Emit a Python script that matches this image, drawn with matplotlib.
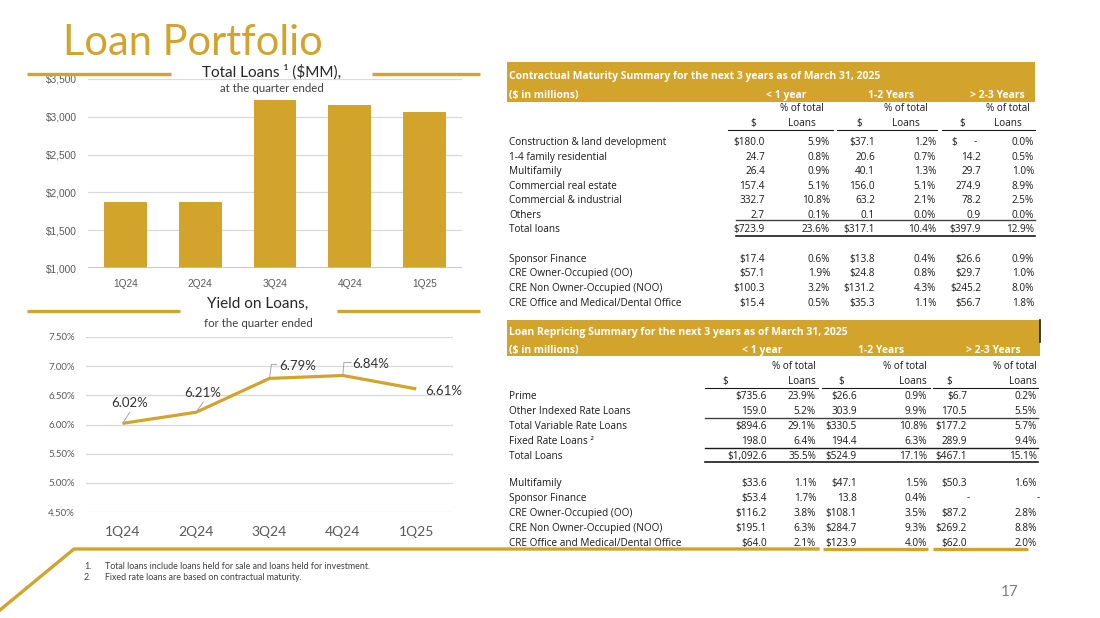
import matplotlib.pyplot as plt
import numpy as np

GOLD = '#D3A42B'
DARK = '#1A1A1A'
GREY = '#595959'
SANS = ['Lato', 'DejaVu Sans']
TAB = ['Open Sans', 'DejaVu Sans']

# chart data
quarters = ['1Q24', '2Q24', '3Q24', '4Q24', '1Q25']
total_loans = [1875, 1875, 3225, 3150, 3070]
loan_yield = [6.02, 6.21, 6.79, 6.84, 6.61]

# contractual maturity table
mat_rows = ['Construction & land development', '1-4 family residential', 'Multifamily',
            'Commercial real estate', 'Commercial & industrial', 'Others', 'Total loans',
            'Sponsor Finance', 'CRE Owner-Occupied (OO)', 'CRE Non Owner-Occupied (NOO)',
            'CRE Office and Medical/Dental Office']
mat_vals = [
    ['$180.0', '5.9%', '$37.1', '1.2%', '$ -', '0.0%'],
    ['24.7', '0.8%', '20.6', '0.7%', '14.2', '0.5%'],
    ['26.4', '0.9%', '40.1', '1.3%', '29.7', '1.0%'],
    ['157.4', '5.1%', '156.0', '5.1%', '274.9', '8.9%'],
    ['332.7', '10.8%', '63.2', '2.1%', '78.2', '2.5%'],
    ['2.7', '0.1%', '0.1', '0.0%', '0.9', '0.0%'],
    ['$723.9', '23.6%', '$317.1', '10.4%', '$397.9', '12.9%'],
    ['$17.4', '0.6%', '$13.8', '0.4%', '$26.6', '0.9%'],
    ['$57.1', '1.9%', '$24.8', '0.8%', '$29.7', '1.0%'],
    ['$100.3', '3.2%', '$131.2', '4.3%', '$245.2', '8.0%'],
    ['$15.4', '0.5%', '$35.3', '1.1%', '$56.7', '1.8%'],
]

# loan repricing table
rep_rows = ['Prime', 'Other Indexed Rate Loans', 'Total Variable Rate Loans',
            'Fixed Rate Loans \u00b2', 'Total Loans', 'Multifamily', 'Sponsor Finance',
            'CRE Owner-Occupied (OO)', 'CRE Non Owner-Occupied (NOO)',
            'CRE Office and Medical/Dental Office']
rep_vals = [
    ['$735.6', '23.9%', '$26.6', '0.9%', '$6.7', '0.2%'],
    ['159.0', '5.2%', '303.9', '9.9%', '170.5', '5.5%'],
    ['$894.6', '29.1%', '$330.5', '10.8%', '$177.2', '5.7%'],
    ['198.0', '6.4%', '194.4', '6.3%', '289.9', '9.4%'],
    ['$1,092.6', '35.5%', '$524.9', '17.1%', '$467.1', '15.1%'],
    ['$33.6', '1.1%', '$47.1', '1.5%', '$50.3', '1.6%'],
    ['$53.4', '1.7%', '13.8', '0.4%', '-', '-'],
    ['$116.2', '3.8%', '$108.1', '3.5%', '$87.2', '2.8%'],
    ['$195.1', '6.3%', '$284.7', '9.3%', '$269.2', '8.8%'],
    ['$64.0', '2.1%', '$123.9', '4.0%', '$62.0', '2.0%'],
]
periods = ['< 1 year', '1-2 Years', '> 2-3 Years']

W, H = 1100, 618
fig = plt.figure(figsize=(11, 6.18), dpi=100)
fig.patch.set_facecolor('white')

def fbox(x0, y0, x1, y1):
    return [x0 / W, 1 - y1 / H, (x1 - x0) / W, (y1 - y0) / H]

# ---- bar chart
ax1 = fig.add_axes(fbox(88, 79, 462, 268))
x = np.arange(len(quarters))
ax1.bar(x, total_loans, width=0.57, color=GOLD, zorder=2)
ax1.set_xlim(-0.5, 4.5)
ax1.set_ylim(1000, 3500)
ax1.set_yticks(range(1000, 3501, 500))
ax1.set_yticklabels(['${:,}'.format(v) for v in range(1000, 3501, 500)])
ax1.set_xticks(x)
ax1.set_xticklabels(quarters)
ax1.grid(axis='y', color='#D9D9D9', lw=0.9, zorder=0)
for s in ax1.spines.values():
    s.set_visible(False)
ax1.axhline(1000, color='#BFBFBF', lw=1.2, zorder=3)
ax1.tick_params(length=0, labelsize=7.3, labelcolor=GREY, pad=8)
for t in ax1.get_xticklabels() + ax1.get_yticklabels():
    t.set_family(['Liberation Sans', 'DejaVu Sans'])

# ---- line chart
ax2 = fig.add_axes(fbox(86, 337, 453, 512))
ax2.plot(x, loan_yield, color=GOLD, lw=2.3, solid_capstyle='butt', zorder=3)
ax2.set_xlim(-0.5, 4.5)
ax2.set_ylim(4.5, 7.5)
ax2.set_yticks(np.arange(4.5, 7.51, 0.5))
ax2.set_yticklabels(['{:.2f}%'.format(v) for v in np.arange(4.5, 7.51, 0.5)])
ax2.set_xticks(x)
ax2.set_xticklabels(quarters)
ax2.grid(axis='y', color='#D9D9D9', lw=0.9, zorder=0)
for s in ax2.spines.values():
    s.set_visible(False)
ax2.tick_params(axis='y', length=0, labelsize=7, labelcolor=GREY, pad=8)
ax2.tick_params(axis='x', length=0, labelsize=10, labelcolor=GREY, pad=10)
for t in ax2.get_xticklabels() + ax2.get_yticklabels():
    t.set_family(SANS)

# ---- overlay in pixel coordinates
ov = fig.add_axes([0, 0, 1, 1], zorder=10)
ov.set_xlim(0, W)
ov.set_ylim(H, 0)
ov.axis('off')
ov.patch.set_alpha(0)

def txt(xp, yp, s, fs, **kw):
    # yp is the visual middle of capitals; draw on the baseline below it
    kw.setdefault('color', DARK)
    kw.setdefault('family', SANS)
    kw.setdefault('ha', 'left')
    ov.text(xp, yp + fs * 1.389 * 0.36, s, fontsize=fs, va='baseline', **kw)

# data labels of the yield line
lab_off = [(7, -21), (7, -20), (28, -13), (28, -12), (27, 1)]
leaders = [[(0, 0), (7, -11)], [(0, 0), (7, -10)], [(0, -1), (2, -14), (7, -14)],
           [(0, -1), (1, -13), (8, -13)], None]
for i, v in enumerate(loan_yield):
    px, py = ax2.transData.transform((i, v))
    py = H - py
    dx, dy = lab_off[i]
    txt(px + dx, py + dy, '{:.2f}%'.format(v), 9.5, ha='center', color='#333333')
    if leaders[i]:
        ov.plot([px + a for a, b in leaders[i]], [py + b for a, b in leaders[i]],
                color='#A6A6A6', lw=0.7)

# titles
txt(63, 40, 'Loan Portfolio', 30, color=GOLD)
txt(272, 71, 'Total Loans \u00b9 ($MM),', 11, color='#262626', ha='center')
txt(272, 88, 'at the quarter ended', 8.3, color='#404040', ha='center')
ov.plot([27, 171], [74, 74], color=GOLD, lw=2.4, solid_capstyle='butt')
ov.plot([372, 480], [74, 74], color=GOLD, lw=2.4, solid_capstyle='butt')

txt(258, 302, 'Yield on Loans,', 11, color='#262626', ha='center')
txt(258, 323, 'for the quarter ended', 8.3, color='#404040', ha='center')
ov.plot([27, 180], [311, 311], color=GOLD, lw=2.4, solid_capstyle='butt')
ov.plot([337, 480], [311, 311], color=GOLD, lw=2.4, solid_capstyle='butt')

# footer line and notes
ov.plot([0, 74, 818], [610, 549, 549], color=GOLD, lw=2.4, solid_joinstyle='miter')
ov.plot([823, 928], [549, 549], color=GOLD, lw=2.4, solid_capstyle='butt')
ov.plot([933, 1028], [549, 549], color=GOLD, lw=2.4, solid_capstyle='butt')
notes = ['Total loans include loans held for sale and loans held for investment.',
         'Fixed rate loans are based on contractual maturity.']
for k, n in enumerate(notes):
    txt(84, 566 + 11 * k, '{}.'.format(k + 1), 6.4, color='#404040')
    txt(105, 566 + 11 * k, n, 6.4, color='#404040')
txt(1010, 590, '17', 11, color='#7F7F7F', ha='center')

TFS = 7.2
BFS = 7.5

def band(y0, y1, x1, title, centers):
    ov.add_patch(plt.Rectangle((507, y0), x1 - 507, y1 - y0, color=GOLD, lw=0))
    r1 = y0 + (y1 - y0) * 0.32
    r2 = y0 + (y1 - y0) * 0.8
    txt(509, r1, title, BFS, color='white', fontweight='bold', family=TAB)
    txt(509, r2, '($ in millions)', BFS, color='white', fontweight='bold', family=TAB)
    for c, p in zip(centers, periods):
        txt(c, r2, p, BFS, color='white', fontweight='bold', ha='center', family=TAB)

# ---- maturity table
band(62, 102, 1035, 'Contractual Maturity Summary for the next 3 years as of March 31, 2025',
     [786, 891, 997])
m_right = [765, 830, 875, 936, 981, 1034]
for c, pc in zip([753, 859, 962], [802, 906, 1008]):
    txt(c, 122, '$', TFS, ha='center', family=TAB)
    txt(pc, 107, '% of total', TFS, ha='center', family=TAB)
    txt(pc, 122, 'Loans', TFS, ha='center', family=TAB)
for a, b in [(728, 833), (837, 937), (942, 1035)]:
    ov.plot([a, b], [130, 130], color=DARK, lw=0.8)
m_y = [141, 156, 170, 185, 199, 214, 228, 258, 272, 287, 302]
for r, (lab, vals) in enumerate(zip(mat_rows, mat_vals)):
    y = m_y[r]
    txt(509, y, lab, TFS, family=TAB)
    for j, v in enumerate(vals):
        if v == '$ -':
            txt(951, y, '$', TFS, family=TAB)
            txt(m_right[j] - 4, y, '-', TFS, ha='right', family=TAB)
        else:
            txt(m_right[j], y, v, TFS, ha='right', family=TAB)
ov.plot([736, 1035], [220, 220], color='#404040', lw=1.0)
ov.plot([736, 1035], [236, 236], color=DARK, lw=1.2)

# ---- repricing table
band(320, 356, 1040, 'Loan Repricing Summary for the next 3 years as of March 31, 2025',
     [762, 881, 993])
ov.plot([1040, 1040], [320, 342], color=DARK, lw=1.2)
r_right = [767, 816, 857, 927, 967, 1037]
for c, pc in zip([722, 838, 946], [816, 927, 1037]):
    txt(c, 380, '$', TFS, family=TAB)
    txt(pc, 365, '% of total', TFS, ha='right', family=TAB)
    txt(pc, 380, 'Loans', TFS, ha='right', family=TAB)
for a, b in [(705, 818), (822, 930), (933, 1038)]:
    ov.plot([a, b], [388, 388], color=DARK, lw=0.8)
r_y = [395, 410, 425, 440, 455, 482, 497, 512, 527, 542]
for r, (lab, vals) in enumerate(zip(rep_rows, rep_vals)):
    y = r_y[r]
    txt(509, y, lab, TFS, family=TAB)
    for j, v in enumerate(vals):
        off = 3 if v == '-' else 0
        txt(r_right[j] + off, y, v, TFS, ha='right', family=TAB)
ov.plot([705, 1038], [418, 418], color='#404040', lw=1.0)
ov.plot([705, 1038], [448, 448], color=DARK, lw=1.0)
ov.plot([705, 1038], [462, 462], color=DARK, lw=1.2)

fig.savefig('out.png', dpi=100)
